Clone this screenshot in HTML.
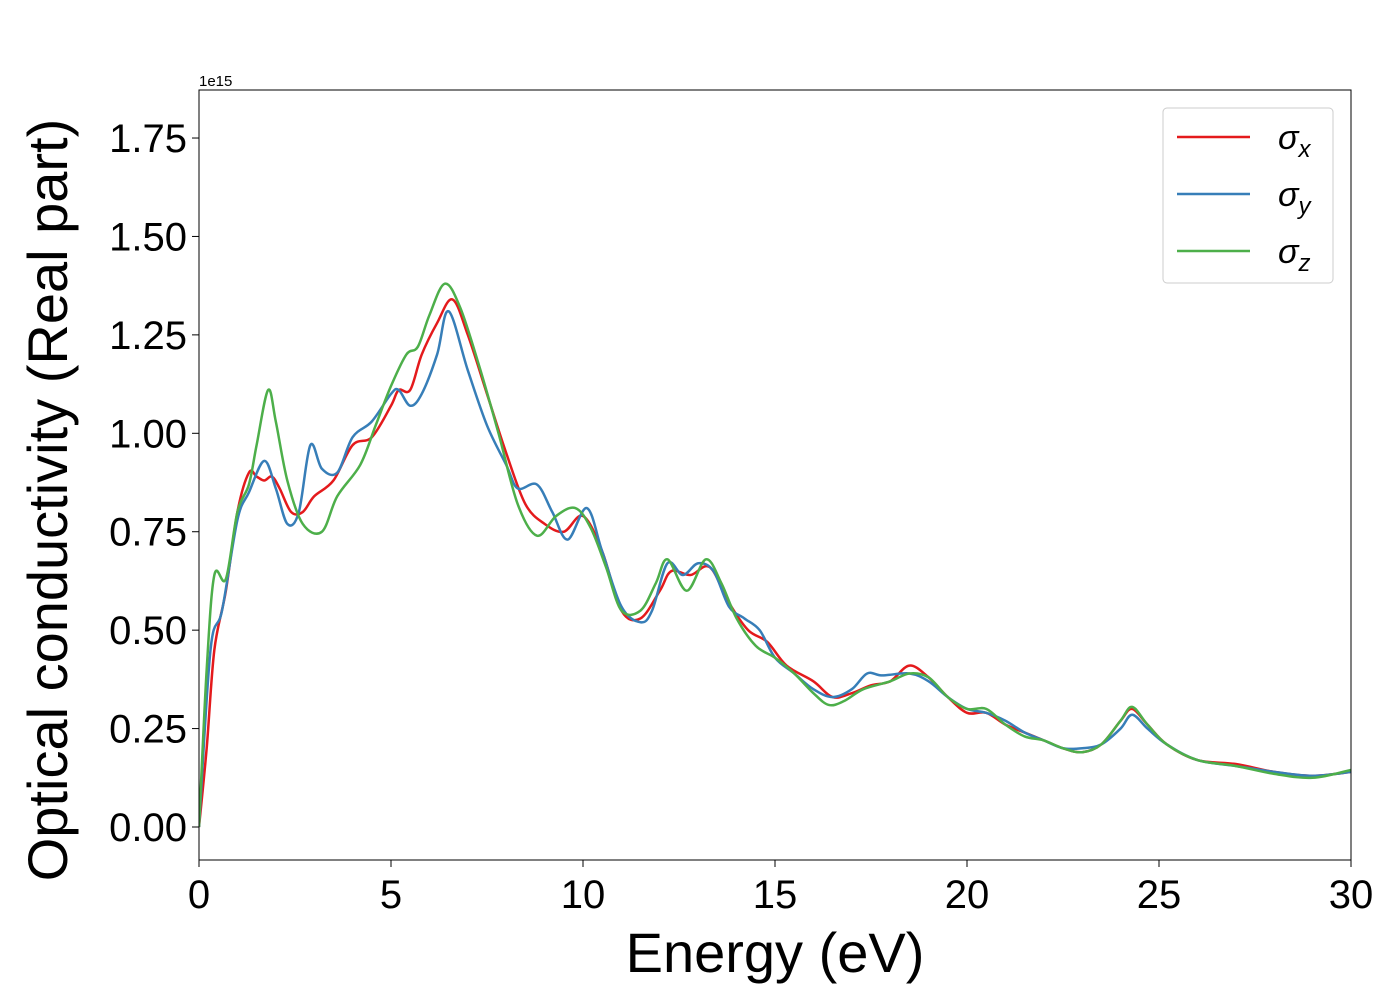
<!DOCTYPE html>
<html><head><meta charset="utf-8"><style>
body{margin:0;background:#fff}
svg{display:block;font-family:"Liberation Sans","DejaVu Sans",sans-serif}
</style></head><body>
<svg id="chart" width="1400" height="1000"></svg>
<script>
const xTicks=[0,5,10,15,20,25,30];
const yTicks=[0,0.25,0.5,0.75,1.0,1.25,1.5,1.75];
const yTickLabels=["0.00","0.25","0.50","0.75","1.00","1.25","1.50","1.75"];
const sxE=[0,0.2,0.4,0.7,1.0,1.3,1.5,1.7,1.9,2.1,2.4,2.7,3.0,3.5,4.0,4.5,5.0,5.2,5.5,5.8,6.2,6.6,7.0,7.5,8.0,8.5,9.0,9.5,10.0,10.5,11.0,11.5,12.0,12.3,12.8,13.3,13.8,14.3,14.8,15.3,16.0,16.5,17.0,17.5,18.0,18.5,19.0,19.5,20.0,20.5,21.0,21.5,22.0,22.5,23.0,23.5,24.0,24.3,24.7,25.2,26,27,28,29,30];
const sxV=[0,0.2,0.45,0.6,0.8,0.9,0.89,0.88,0.89,0.86,0.8,0.8,0.84,0.88,0.97,0.99,1.07,1.11,1.11,1.2,1.28,1.34,1.25,1.1,0.95,0.82,0.77,0.75,0.79,0.7,0.55,0.53,0.6,0.65,0.64,0.66,0.57,0.5,0.47,0.41,0.37,0.33,0.34,0.36,0.37,0.41,0.38,0.33,0.29,0.29,0.26,0.24,0.22,0.2,0.19,0.21,0.27,0.30,0.26,0.21,0.17,0.16,0.14,0.13,0.14];
const syE=[0,0.3,0.6,1.0,1.3,1.7,2.0,2.3,2.6,2.9,3.2,3.6,4.0,4.5,5.0,5.2,5.5,5.8,6.2,6.5,7.0,7.5,8.0,8.3,8.8,9.2,9.6,10.1,10.5,11.0,11.5,11.8,12.2,12.6,13.0,13.4,13.8,14.2,14.6,15.0,15.5,16.0,16.5,17.0,17.4,17.8,18.5,19.0,19.5,20.0,20.5,21,21.5,22,22.5,23,23.5,24,24.3,24.7,25.2,26,27,28,29,30];
const syV=[0,0.45,0.55,0.78,0.85,0.93,0.86,0.77,0.8,0.97,0.91,0.9,0.99,1.03,1.1,1.11,1.07,1.1,1.2,1.31,1.16,1.02,0.92,0.86,0.87,0.8,0.73,0.81,0.7,0.56,0.52,0.55,0.67,0.64,0.67,0.65,0.56,0.53,0.5,0.43,0.39,0.35,0.33,0.35,0.39,0.385,0.39,0.37,0.33,0.3,0.29,0.27,0.24,0.22,0.2,0.2,0.21,0.25,0.285,0.25,0.21,0.17,0.155,0.14,0.13,0.14];
const szE=[0,0.2,0.4,0.7,1.0,1.3,1.5,1.8,2.0,2.3,2.7,3.2,3.6,4.2,4.6,5.0,5.4,5.7,6.0,6.4,6.8,7.3,7.8,8.3,8.8,9.3,9.8,10.2,10.6,11.0,11.5,11.9,12.2,12.7,13.2,13.6,14.0,14.5,15.0,15.5,16.0,16.4,16.8,17.3,18.0,18.5,19.0,19.5,20.0,20.5,21,21.5,22,22.5,23,23.5,24,24.3,24.7,25.2,26,27,28,29,30];
const szV=[0,0.4,0.64,0.63,0.8,0.87,0.97,1.11,1.03,0.88,0.77,0.75,0.84,0.92,1.02,1.12,1.2,1.22,1.3,1.38,1.32,1.17,1.0,0.82,0.74,0.79,0.81,0.76,0.66,0.55,0.55,0.62,0.68,0.6,0.68,0.62,0.53,0.46,0.43,0.39,0.34,0.31,0.32,0.35,0.37,0.39,0.38,0.33,0.3,0.3,0.26,0.23,0.22,0.2,0.19,0.21,0.27,0.305,0.26,0.21,0.17,0.155,0.135,0.125,0.145];

const L=199,R=1351,T=90,B=860;
const X=v=>L+(v-0)/30*(R-L);
const Y=v=>827-v*393.7;
const NS="http://www.w3.org/2000/svg";
const svg=document.getElementById('chart');
function mk(t,a,p){const e=document.createElementNS(NS,t);for(const k in a)e.setAttribute(k,a[k]);(p||svg).appendChild(e);return e;}

const defs=mk('defs',{});
const cp=mk('clipPath',{id:'clip'},defs);
mk('rect',{x:L,y:T,width:R-L,height:B-T},cp);

function path(E,V){
  const p=E.map((e,i)=>[X(e),Y(V[i])]);
  let d=`M${p[0][0]},${p[0][1]}`;
  for(let i=0;i<p.length-1;i++){
    const p0=p[Math.max(i-1,0)],p1=p[i],p2=p[i+1],p3=p[Math.min(i+2,p.length-1)];
    const c1=[p1[0]+(p2[0]-p0[0])/6,p1[1]+(p2[1]-p0[1])/6];
    const c2=[p2[0]-(p3[0]-p1[0])/6,p2[1]-(p3[1]-p1[1])/6];
    d+=`C${c1[0]},${c1[1]} ${c2[0]},${c2[1]} ${p2[0]},${p2[1]}`;
  }
  return d;
}
const series=[[sxE,sxV,'#e41a1c','sigma-x-line'],[syE,syV,'#377eb8','sigma-y-line'],[szE,szV,'#4daf4a','sigma-z-line']];
const g=mk('g',{'clip-path':'url(#clip)'});


series.forEach(s=>{
  const el=mk('path',{d:path(s[0],s[1]),fill:'none',stroke:s[2],'stroke-width':2.5},g);
  
  
});

const frame=mk('rect',{x:L,y:T,width:R-L,height:B-T,fill:'none',stroke:'#000','stroke-width':1});



xTicks.forEach(t=>{
  const tk=mk('line',{x1:X(t),x2:X(t),y1:B,y2:B+7,stroke:'#000','stroke-width':1});
  
  
  const tx=mk('text',{x:X(t),y:B+48,'text-anchor':'middle','font-size':40});
  tx.textContent=t;
  
  
});
yTicks.forEach((t,i)=>{
  const tk=mk('line',{x1:L-7,x2:L,y1:Y(t),y2:Y(t),stroke:'#000','stroke-width':1});
  
  
  const tx=mk('text',{x:L-12,y:Y(t)+14,'text-anchor':'end','font-size':40});
  tx.textContent=yTickLabels[i];
  
  
});
const off=mk('text',{x:L,y:T-4,'font-size':15});
off.textContent='1e15';


const xl=mk('text',{x:(L+R)/2,y:972,'text-anchor':'middle','font-size':56});
xl.textContent='Energy (eV)';


const yl=mk('text',{x:0,y:0,'text-anchor':'middle','font-size':56,transform:`translate(67,${(T+B)/2+25}) rotate(-90)`});
yl.textContent='Optical conductivity (Real part)';



const lg=mk('g',{});


mk('rect',{x:1163,y:108,width:170,height:175,rx:4,fill:'#fff',stroke:'#ccc','stroke-width':1},lg);
const subs=['x','y','z'];
series.forEach((s,i)=>{
  const y=137+i*57;
  const ln=mk('line',{x1:1177,x2:1250,y1:y,y2:y,stroke:s[2],'stroke-width':2.5},lg);
  
  
  const tx=mk('text',{x:1278,y:y+12,'font-size':34},lg);
  
  
  const t1=mk('tspan',{'font-style':'italic'},tx);t1.textContent='σ';
  const t2=mk('tspan',{'font-style':'italic','font-size':24,dy:8},tx);t2.textContent=subs[i];
});
</script>
</body></html>
